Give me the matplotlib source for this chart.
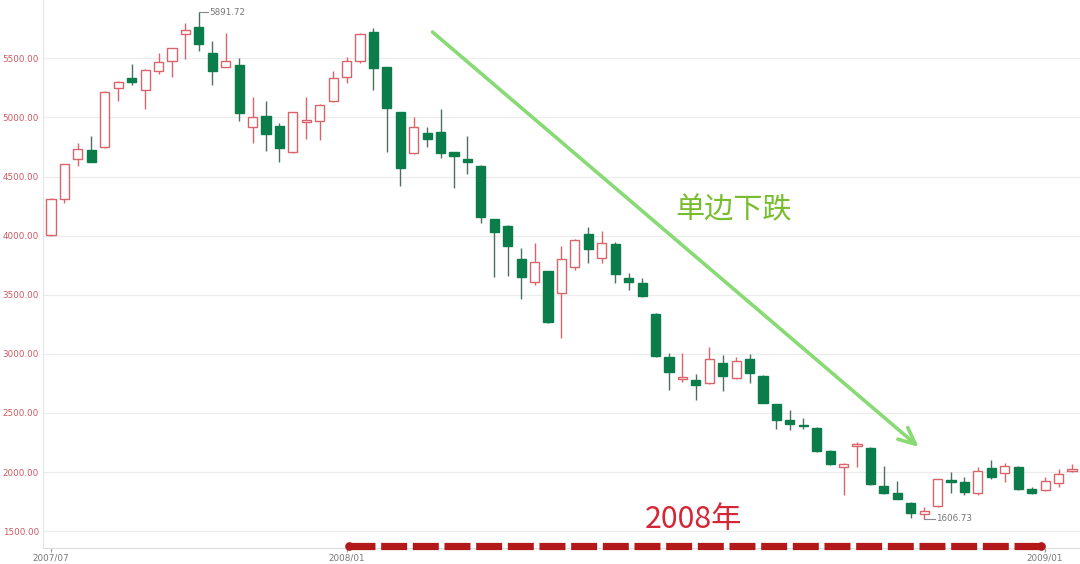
import matplotlib
matplotlib.use("Agg")
import matplotlib.pyplot as plt
import numpy as np

plt.rcParams['font.family'] = ['DejaVu Sans']
plt.rcParams['lines.scale_dashes'] = False

# Weekly OHLC (index values)
opens = [4006, 4308, 4646, 4725, 4748, 5247, 5337, 5232, 5393, 5481,
         5704, 5763, 5548, 5430, 5444, 4917, 5013, 4928, 4711, 4960,
         4973, 5142, 5345, 5481, 5721, 5425, 5044, 4697, 4866, 4875,
         4705, 4649, 4592, 4141, 4085, 3800, 3611, 3701, 3518, 3738,
         4014, 3809, 3927, 3640, 3602, 3340, 2976, 2790, 2775, 2750,
         2925, 2792, 2956, 2813, 2574, 2444, 2401, 2373, 2181, 2046,
         2223, 2204, 1880, 1826, 1741, 1646, 1712, 1933, 1914, 1820,
         2032, 1995, 2045, 1853, 1846, 1909, 2008]
closes = [4308, 4604, 4731, 4626, 5218, 5303, 5298, 5402, 5472, 5585,
          5740, 5619, 5396, 5478, 5041, 5007, 4858, 4739, 5044, 4975,
          5106, 5337, 5481, 5706, 5416, 5078, 4575, 4922, 4818, 4703,
          4677, 4621, 4156, 4034, 3915, 3648, 3780, 3272, 3800, 3964,
          3885, 3936, 3676, 3611, 3490, 2979, 2850, 2805, 2741, 2954,
          2813, 2942, 2840, 2588, 2444, 2404, 2390, 2178, 2069, 2069,
          2240, 1903, 1823, 1775, 1656, 1674, 1939, 1919, 1829, 2011,
          1961, 2054, 1856, 1820, 1922, 1988, 2030]
highs = [4315, 4610, 4782, 4843, 5225, 5310, 5452, 5410, 5543, 5592,
         5802, 5891.72, 5650, 5712, 5501, 5176, 5142, 4950, 5050, 5176,
         5112, 5393, 5509, 5712, 5755, 5430, 5050, 5007, 4922, 5069,
         4710, 4843, 4597, 4141, 4090, 3893, 3936, 3705, 3915, 3970,
         4076, 4040, 3944, 3687, 3640, 3345, 3010, 3010, 2826, 3055,
         2990, 2975, 3001, 2820, 2580, 2529, 2460, 2378, 2185, 2075,
         2252, 2210, 2055, 1925, 1745, 1708, 1943, 2001, 1962, 2045,
         2100, 2073, 2048, 1870, 1960, 2030, 2066]
lows = [4000, 4274, 4592, 4620, 4740, 5140, 5275, 5069, 5368, 5340,
        5495, 5565, 5275, 5425, 4973, 4787, 4719, 4626, 4700, 4815,
        4810, 5135, 5289, 5462, 5233, 4711, 4420, 4690, 4753, 4655,
        4401, 4522, 4105, 3653, 3662, 3462, 3583, 3265, 3133, 3710,
        3766, 3772, 3602, 3538, 3485, 2975, 2696, 2760, 2614, 2745,
        2685, 2788, 2750, 2583, 2362, 2353, 2368, 2172, 2062, 1805,
        2046, 1889, 1813, 1770, 1611, 1606.73, 1708, 1823, 1805, 1805,
        1940, 1920, 1852, 1817, 1840, 1874, 2005]

tick_positions = [0, 22, 74]
tick_labels = ['2007/07', '2008/01', '2009/01']
y_ticks = [1500, 2000, 2500, 3000, 3500, 4000, 4500, 5000, 5500]

trend_text = '单边下跌'
year_text = '2008年'

UP_EDGE = '#d9646c'
DOWN = '#0b7d4b'

fig = plt.figure(figsize=(10.8, 5.64), dpi=100)
ax = fig.add_axes([0.0398, 0.0284, 0.9602, 0.9716])

x = np.arange(len(opens))
o = np.array(opens, float)
c = np.array(closes, float)
h = np.array(highs, float)
l = np.array(lows, float)
up = c >= o

# wicks
ax.vlines(x[up], l[up], h[up], color=UP_EDGE, linewidth=1.0, zorder=2)
ax.vlines(x[~up], l[~up], h[~up], color='#4d6f5e', linewidth=1.0, zorder=2)

# bodies
bw = 0.68
ax.bar(x[up], c[up] - o[up], bottom=o[up], width=bw, facecolor='white',
       edgecolor=UP_EDGE, linewidth=1.0, zorder=3)
ax.bar(x[~up], o[~up] - c[~up], bottom=c[~up], width=bw, facecolor=DOWN,
       edgecolor=DOWN, linewidth=1.0, zorder=3)

ax.set_xlim(-0.6, len(opens) - 0.4)
ax.set_ylim(1358, 5994)

ax.set_yticks(y_ticks)
ax.set_yticklabels([f'{v:.2f}' for v in y_ticks], color='#cc5a62', fontsize=6.3)
ax.tick_params(axis='y', length=0, pad=3)
ax.set_xticks(tick_positions)
ax.set_xticklabels(tick_labels, color='#777777', fontsize=6.3)
ax.tick_params(axis='x', length=3, width=0.8, color='#999999', pad=1)

ax.grid(axis='y', color='#ececec', linewidth=0.9, zorder=0)
ax.set_axisbelow(True)
for s in ['top', 'right']:
    ax.spines[s].set_visible(False)
ax.spines['left'].set_color('#e6e6e6')
ax.spines['bottom'].set_color('#dddddd')

# max / min annotations
imax = int(np.argmax(h))
imin = int(np.argmin(l))
ax.plot([imax, imax + 0.65], [h[imax], h[imax]], color='#888888', lw=0.8, zorder=4)
ax.text(imax + 0.75, h[imax], f'{h[imax]:.2f}', fontsize=6.3, color='#777777',
        va='center', ha='left')
ax.plot([imin, imin + 0.8], [l[imin], l[imin]], color='#888888', lw=0.8, zorder=4)
ax.text(imin + 0.85, l[imin], f'{l[imin]:.2f}', fontsize=6.3, color='#777777',
        va='center', ha='left')

# trend arrow
ax.annotate('', xy=(64.6, 2212), xytext=(28.4, 5723),
            arrowprops=dict(arrowstyle='->,head_length=1.2,head_width=0.55',
                            color='#88da74', lw=2.6, shrinkA=0, shrinkB=0),
            zorder=5)
ax.text(50.8, 4215, trend_text, fontsize=21, color='#78bd2e',
        family=['Noto Sans CJK SC'], ha='center', va='center', zorder=6)

# 2008 marker
ax.text(47.8, 1600, year_text, fontsize=21.8, color='#d42635',
        family=['Noto Sans CJK SC', 'DejaVu Sans'], ha='center', va='center',
        zorder=6)
line, = ax.plot([22.15, 73.6], [1375, 1375], color='#b3181b', lw=5.2,
                solid_capstyle='butt', dash_capstyle='butt', clip_on=False,
                zorder=6)
line.set_dashes((18.7, 4.1))
ax.plot([22.15, 73.7], [1375, 1375], 'o', color='#b3181b', ms=5.2,
        clip_on=False, zorder=6)

fig.savefig('out.png', dpi=100, facecolor='white')
